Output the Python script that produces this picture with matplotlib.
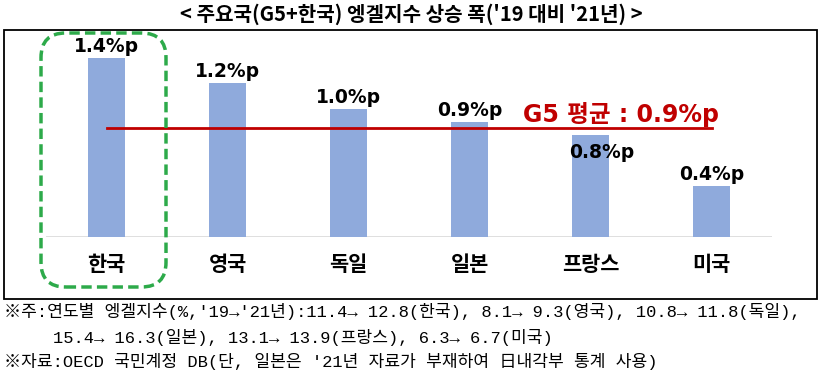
import matplotlib.pyplot as plt
import numpy as np
from matplotlib.patches import FancyBboxPatch, Rectangle

# data
countries = ["한국", "영국", "독일", "일본", "프랑스", "미국"]
rise = [1.4, 1.2, 1.0, 0.9, 0.8, 0.4]
g5_avg = 0.9
g5_line = 0.85  # where the red line sits in the picture

title = "< 주요국(G5+한국) 엥겔지수 상승 폭('19 대비 '21년) >"
notes = [
    "※주:연도별 엥겔지수(%,'19→'21년):11.4→ 12.8(한국), 8.1→ 9.3(영국), 10.8→ 11.8(독일),",
    "15.4→ 16.3(일본), 13.1→ 13.9(프랑스), 6.3→ 6.7(미국)",
    "※자료:OECD 국민계정 DB(단, 일본은 '21년 자료가 부재하여 日내각부 통계 사용)",
]

W, H = 822, 378
kr = ["Noto Sans CJK KR", "DejaVu Sans"]
lat = ["DejaVu Sans", "Noto Sans CJK KR"]
mono = ["Liberation Mono", "Noto Sans CJK KR"]

fig = plt.figure(figsize=(W / 100, H / 100), dpi=100)


def fx(px):
    return px / W


def fy(py):
    return 1 - py / H


# outer frame
fig.patches.append(Rectangle((fx(4), fy(299)), fx(813), (299 - 30) / H,
                             transform=fig.transFigure, fill=False,
                             edgecolor="black", lw=1.3))

ax = fig.add_axes([fx(46), fy(237), fx(726), (237 - 40) / H])
x = np.arange(len(countries))
ax.bar(x, rise, width=0.31, color="#8FAADC", zorder=2)
ax.set_xlim(-0.5, 5.5)
ax.set_ylim(0, 197 / 128)
for s in ax.spines.values():
    s.set_visible(False)
ax.axhline(0, color="#D9D9D9", lw=1.2, zorder=1)
ax.set_yticks([])
ax.set_xticks(x)
ax.set_xticklabels(countries, fontfamily=kr, fontweight="bold", fontsize=15)
ax.tick_params(axis="x", length=0, pad=12)

for i, v in enumerate(rise):
    if countries[i] == "프랑스":
        ax.text(i + 0.09, v - 0.14, f"{v:.1f}%p", ha="center", va="center",
                fontfamily=lat, fontweight="bold", fontsize=13.5, zorder=3)
    else:
        ax.text(i, v + 0.015, f"{v:.1f}%p", ha="center", va="bottom",
                fontfamily=lat, fontweight="bold", fontsize=13.5, zorder=3)

ax.plot([0, 5], [g5_line, g5_line], color="#C00000", lw=2, zorder=3)
ax.text(4.256, g5_line + 0.11, f"G5 평균 : {g5_avg:.1f}%p", ha="center", va="center",
        fontfamily=lat, fontweight="bold", fontsize=17, color="#C00000", zorder=4)

# green dashed highlight around Korea
fig.patches.append(FancyBboxPatch((fx(41), fy(287)), fx(125), (287 - 33) / H,
                                  boxstyle="round,pad=0,rounding_size=0.03",
                                  transform=fig.transFigure, fill=False,
                                  edgecolor="#2DAA4A", lw=2.5, linestyle=(0, (3, 1.5)),
                                  mutation_aspect=W / H))

fig.text(0.5, fy(14), title, ha="center", va="center", fontfamily=kr,
         fontweight="bold", fontsize=14.5)

fig.text(fx(4), fy(312), notes[0], ha="left", va="center", fontfamily=mono, fontsize=12.3)
fig.text(fx(53), fy(337), notes[1], ha="left", va="center", fontfamily=mono, fontsize=12.3)
fig.text(fx(4), fy(361), notes[2], ha="left", va="center", fontfamily=mono, fontsize=12.3)

fig.savefig("out.png", dpi=100)
